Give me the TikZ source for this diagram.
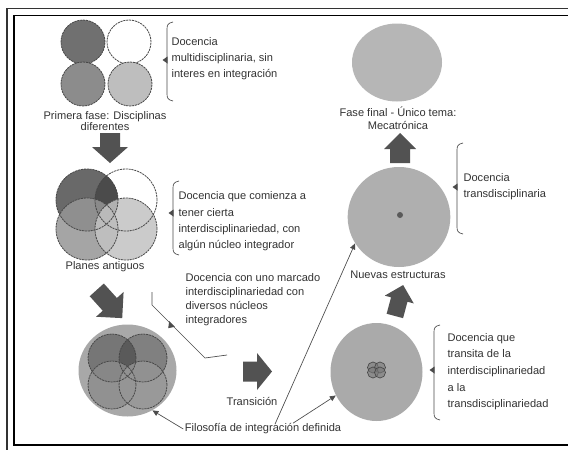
\documentclass[tikz,border=0pt]{standalone}
\usepackage{fontspec}
\setmainfont{Liberation Sans}
\usetikzlibrary{calc,arrows.meta,shapes.geometric}
\definecolor{framecol}{gray}{0.2}
\definecolor{arrcol}{gray}{0.32}
\definecolor{txtcol}{gray}{0.2}
\definecolor{brkcol}{gray}{0.3}
\definecolor{outl}{gray}{0.28}
\definecolor{cA}{RGB}{112,112,112}
\definecolor{cB}{RGB}{140,140,140}
\definecolor{cC}{RGB}{190,190,190}
\definecolor{vA}{RGB}{105,105,105}
\definecolor{vLens}{RGB}{75,75,75}
\definecolor{vC}{RGB}{150,150,150}
\definecolor{vD}{RGB}{195,195,195}
\definecolor{bigF}{RGB}{168,168,168}
\definecolor{wA}{RGB}{118,118,118}
\definecolor{wB}{RGB}{128,128,128}
\definecolor{wLens}{RGB}{90,90,90}
\definecolor{wC}{RGB}{140,140,140}
\definecolor{wD}{RGB}{150,150,150}
\definecolor{transF}{RGB}{170,170,170}
\definecolor{symF}{RGB}{120,120,120}
\definecolor{nuevF}{RGB}{175,175,175}
\definecolor{dotF}{RGB}{90,90,90}
\definecolor{finalF}{RGB}{182,182,182}
\newcommand\mybrace[4]{%
  \draw[brk] (#1+6,#2-3) .. controls (#1+1,#2-2) and (#1,#2) .. (#1,#2+4)
     -- (#1,#3-4) .. controls (#1,#3) and (#1+1,#3+2) .. (#1+6,#3+3);
  \fill[brkcol] (#1+0.5,#4-3.5) -- (#1-4.5,#4) -- (#1+0.5,#4+3.5) -- cycle;}
\newcommand\blockarrow[7]{% x, y, angle, length, shaft, head, headlen
  \begin{scope}[shift={(#1,#2)},rotate=#3]
    \fill[arrcol] (-#4/2,-#5/2) -- (#4/2-#7,-#5/2) -- (#4/2-#7,-#6/2) -- (#4/2,0)
      -- (#4/2-#7,#6/2) -- (#4/2-#7,#5/2) -- (-#4/2,#5/2) -- cycle;
  \end{scope}}
\begin{document}
\begin{tikzpicture}[x=0.75pt,y=-0.75pt,
  txt/.style={font=\fontsize{8.3}{12}\selectfont, inner sep=1pt, text=txtcol},
  brk/.style={draw=brkcol, line width=0.5pt},
  frm/.style={draw=framecol, line width=1.2pt},
  ring/.style={circle, inner sep=0pt, minimum size=#1},
  oval/.style 2 args={ellipse, inner sep=0pt, minimum width=#1, minimum height=#2},
  dashring/.style={draw=outl, line width=0.6pt, dash pattern=on 1.6pt off 0.6pt},
  conn/.style={draw=brkcol, line width=0.5pt, -{Triangle[length=4.5pt,width=4pt]}}]
\useasboundingbox (0,0) rectangle (568,450);
\fill[white] (0,0) rectangle (568,450);
% frame
\draw[frm] (568,8.5) -- (7,8.5) -- (7,450);
\draw[frm, draw=black] (568,15.5) -- (14,15.5) -- (14,445) -- (568,445);

% ---- first phase: four circles
\node[ring=33pt, fill=cA, dashring] (c1) at (83,42) {};
\node[ring=33pt, fill=white, dashring] (c2) at (129,42) {};
\node[ring=33pt, fill=cB, dashring] (c3) at (83,84) {};
\node[ring=33pt, fill=cC, dashring] (c4) at (130,84) {};
\mybrace{167}{25}{98}{60}
\node[txt, anchor=west, align=left, font=\fontsize{8.3}{11.9}\selectfont] (t1) at (170,59)
  {Docencia\\multidisciplinaria, sin\\interes en integración};
\node[txt, align=center, font=\fontsize{8.3}{8.8}\selectfont] (t2) at (105,121)
  {Primera fase: Disciplinas\\diferentes};
\blockarrow{110}{148}{-90}{30}{20}{36}{16}

% ---- planes antiguos venn
\fill[white] (126,200) circle [radius=31];
\fill[vA] (87,200) circle [radius=31];
\begin{scope}
  \clip (87,200) circle [radius=31];
  \fill[vLens] (126,200) circle [radius=31];
\end{scope}
\fill[fill=vC, fill opacity=0.85] (87,229) circle [radius=31];
\fill[fill=vD, fill opacity=0.85] (126,229) circle [radius=31];
\node[ring=46.5pt, dashring] (v1) at (87,200) {};
\node[ring=46.5pt, dashring] (v2) at (126,200) {};
\node[ring=46.5pt, dashring] (v3) at (87,229) {};
\node[ring=46.5pt, dashring] (v4) at (126,229) {};
\mybrace{173}{184}{252}{213}
\node[txt, anchor=west, align=left, font=\fontsize{8.3}{12.2}\selectfont] (t3) at (177,221.5)
  {Docencia que comienza a\\tener cierta\\interdisciplinariedad, con\\algún núcleo integrador};
\node[txt] (t4) at (105,267) {Planes antiguos};
\node[txt, anchor=west, align=left, font=\fontsize{8.3}{10.5}\selectfont] (t5) at (184,299.5)
  {Docencia con uno marcado\\interdisciplinariedad con\\diversos núcleos\\integradores};
\draw[brk] (152,292) -- (152,305) -- (205,358) -- (227,355);
\fill[brkcol] (169.2,321) -- (174.8,326.8) -- (168.2,328.2) -- cycle;
\blockarrow{109.5}{304}{-48}{38}{19}{37}{18.5}

% ---- filosofía circle
\node[oval={73.5pt}{69pt}, fill=bigF] (big) at (127.5,370.5) {};
\fill[wA] (112,358) circle [radius=24];
\fill[wB] (143,358) circle [radius=24];
\begin{scope}
  \clip (112,358) circle [radius=24];
  \fill[wLens] (143,358) circle [radius=24];
\end{scope}
\fill[fill=wC, fill opacity=0.8] (112,385) circle [radius=24];
\fill[fill=wD, fill opacity=0.8] (143,385) circle [radius=24];
\node[ring=36pt, dashring] (w1) at (112,358) {};
\node[ring=36pt, dashring] (w2) at (143,358) {};
\node[ring=36pt, dashring] (w3) at (112,385) {};
\node[ring=36pt, dashring] (w4) at (143,385) {};

% ---- transition
\blockarrow{257.5}{371.5}{0}{29}{20}{37}{15}
\node[txt] (tr) at (252,401) {Transición};
\node[txt] (filo) at (263,429) {Filosofía de integración definida};

\node[oval={69pt}{73.5pt}, fill=transF] (trans) at (376.5,372) {};
\foreach \dx/\dy in {-3.5/-2.5, 3.5/-2.5, -3.5/2.5, 3.5/2.5}
  \draw[draw=outl, fill=symF, fill opacity=0.6, line width=0.5pt] (376.5+\dx,370+\dy) circle [radius=5.5];
\mybrace{434}{328}{417}{370}
\node[txt, anchor=west, align=left, font=\fontsize{8.3}{12.5}\selectfont] (t7) at (446,371.5)
  {Docencia que\\transita de la\\interdisciplinariedad\\a la\\transdisciplinariedad};

\blockarrow{399}{300.5}{75}{32}{17}{30}{15}

% ---- nuevas estructuras
\node[oval={77pt}{75pt}, fill=nuevF] (nuevas) at (399,217) {};
\fill[dotF] (400,215) circle [radius=3];
\node[txt] (t8) at (398,275) {Nuevas estructuras};
\mybrace{457}{146}{231}{187}
\node[txt, anchor=west, align=left, font=\fontsize{8.3}{12.5}\selectfont] (t6) at (462,186.5)
  {Docencia\\transdisciplinaria};

\blockarrow{400}{148}{90}{30}{20}{32}{16}

% ---- fase final
\node[oval={67.5pt}{58.5pt}, fill=finalF] (final) at (397,62.5) {};
\node[txt, align=center, font=\fontsize{8.3}{9.75}\selectfont] (t9) at (398,118.5)
  {Fase final - Único tema:\\Mecatrónica};

% ---- connectors
\draw[conn] (filo.west) -- (big.-58);
\draw[conn] ($(filo.north)+(12,2)$) -- (nuevas.211);
\draw[conn] ($(filo.north)+(30,1)$) -- (trans.210);
\end{tikzpicture}
\end{document}
